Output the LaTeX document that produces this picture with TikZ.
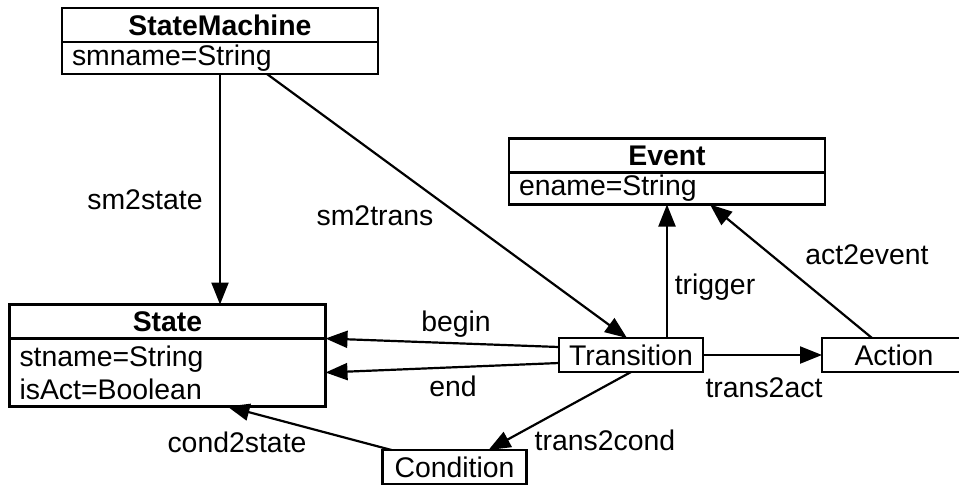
\documentclass[tikz,border=0pt]{standalone}
\usepackage{fontspec}
\setmainfont{Liberation Sans}
\usetikzlibrary{arrows.meta,positioning}

\newcommand{\umlfont}{\fontsize{14.2}{16.5}\selectfont}

\tikzset{
  cls/.style={draw, line width=1.1pt, outer sep=0pt, inner sep=0pt,
    minimum width=158pt, minimum height=17pt, font=\umlfont\bfseries},
  attr/.style={draw, line width=1.1pt, outer sep=0pt, inner xsep=5pt, inner ysep=0pt,
    text width=148pt, align=left, minimum height=16pt, font=\umlfont},
  obj/.style={draw, line width=1.1pt, outer sep=0pt, inner sep=0pt,
    minimum width=72pt, minimum height=17pt, font=\umlfont},
  rel/.style={line width=1.1pt, -{Triangle[length=11pt,width=8.5pt]}},
  lbl/.style={inner sep=0pt, font=\umlfont}
}

\begin{document}
\begin{tikzpicture}[x=0.5pt, y=-0.5pt]
  \useasboundingbox (0,0) rectangle (959,484);

  % classes
  \node[cls] (sm) at (220,25) {StateMachine};
  \node[attr, below=0pt of sm] (sm-a) {smname=String};

  \node[cls] (st) at (167.5,321.5) {State};
  \node[attr, below=0pt of st, minimum height=34pt] (st-a) {stname=String\\isAct=Boolean};

  \node[cls] (ev) at (667,155.5) {Event};
  \node[attr, below=0pt of ev] (ev-a) {ename=String};

  % objects
  \node[obj] (tr) at (631,355) {Transition};
  \node[obj] (ac) at (894,355) {Action};
  \node[obj] (cd) at (454.5,467) {Condition};

  % relations
  \draw[rel] (sm-a.south) -- (sm-a.south |- st.north);
  \draw[rel] ([xshift=23.5pt]sm-a.south) -- ([xshift=-2pt]tr.north);
  \draw[rel] ([yshift=4pt]tr.west) -- (st.south east);
  \draw[rel] ([yshift=-4pt]tr.west) -- (st-a.east);
  \draw[rel] (tr.north -| ev-a.south) -- (ev-a.south);
  \draw[rel] ([xshift=-11pt]ac.north) -- ([xshift=21.5pt]ev-a.south);
  \draw[rel] (tr.east) -- (ac.west);
  \draw[rel] (tr.south) -- ([xshift=17pt]cd.north);
  \draw[rel] ([xshift=4.5pt]cd.north west) -- ([xshift=30pt]st-a.south);

  % labels
  \node[lbl] (l-sm2state) at (145,200) {sm2state};
  \node[lbl] (l-sm2trans) at (375,216) {sm2trans};
  \node[lbl] (l-begin) at (456,324) {begin};
  \node[lbl] (l-end) at (453,386) {end};
  \node[lbl] (l-trigger) at (715,287) {trigger};
  \node[lbl] (l-act2event) at (867,255) {act2event};
  \node[lbl] (l-trans2act) at (764,388) {trans2act};
  \node[lbl] (l-trans2cond) at (605,440) {trans2cond};
  \node[lbl] (l-cond2state) at (237,442) {cond2state};
\end{tikzpicture}
\end{document}
